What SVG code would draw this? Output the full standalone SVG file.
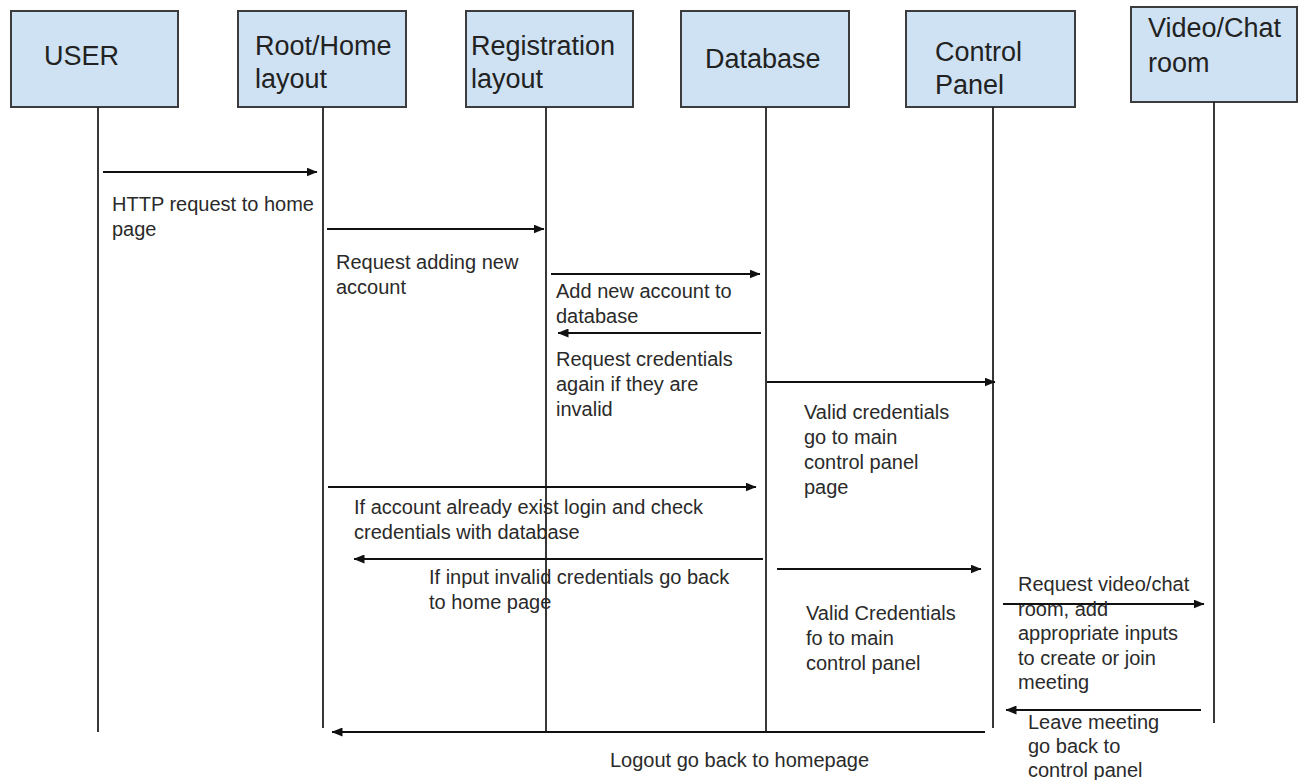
<svg xmlns="http://www.w3.org/2000/svg" width="1301" height="780" viewBox="0 0 1301 780">
<defs>
<marker id="ah" viewBox="0 0 11 9" markerWidth="11" markerHeight="9" refX="10.5" refY="4.5" orient="auto" markerUnits="userSpaceOnUse">
<path d="M0,0 L11,4.5 L0,9 z" fill="#111"/>
</marker>
<style>
.box{fill:#cfe2f3;stroke:#3c3c3c;stroke-width:2}
.hd{font-family:"Liberation Sans",Arial,sans-serif;font-size:27px;fill:#222}
.lbl{font-family:"Liberation Sans",Arial,sans-serif;font-size:20px;fill:#2a2a2a}
.life{stroke:#222;stroke-width:1.8;fill:none}
.msg{stroke:#111;stroke-width:1.8;fill:none;marker-end:url(#ah)}
</style>
</defs>
<rect width="1301" height="780" fill="#fff"/>

<g id="user">
<rect class="box" x="11" y="11" width="167" height="96"/>
<text class="hd" x="44" y="65">USER</text>
<line class="life" x1="98" y1="107" x2="98" y2="732"/>
</g>
<g id="root-home">
<rect class="box" x="238" y="11" width="168" height="96"/>
<text class="hd" x="255" y="55">Root/Home</text>
<text class="hd" x="255" y="88">layout</text>
<line class="life" x1="323" y1="107" x2="323" y2="728"/>
</g>
<g id="registration">
<rect class="box" x="466" y="11" width="167" height="96"/>
<text class="hd" x="471" y="55">Registration</text>
<text class="hd" x="471" y="88">layout</text>
<line class="life" x1="546" y1="107" x2="546" y2="731"/>
</g>
<g id="database">
<rect class="box" x="681" y="11" width="168" height="96"/>
<text class="hd" x="705" y="68">Database</text>
<line class="life" x1="766" y1="107" x2="766" y2="732"/>
</g>
<g id="control-panel">
<rect class="box" x="906" y="11" width="169" height="96"/>
<text class="hd" x="935" y="61">Control</text>
<text class="hd" x="935" y="94">Panel</text>
<line class="life" x1="993" y1="107" x2="993" y2="728"/>
</g>
<g id="video-chat">
<rect class="box" x="1131" y="7" width="166" height="95"/>
<text class="hd" x="1148" y="37">Video/Chat</text>
<text class="hd" x="1148" y="72">room</text>
<line class="life" x1="1214" y1="102" x2="1214" y2="723"/>
</g>

<g id="connectors">
<line class="msg" x1="103" y1="172" x2="317" y2="172"/>
<line class="msg" x1="327" y1="229" x2="544" y2="229"/>
<line class="msg" x1="551" y1="274" x2="760" y2="274"/>
<line class="msg" x1="761" y1="333" x2="558" y2="333"/>
<line class="msg" x1="767" y1="382" x2="995" y2="382"/>
<line class="msg" x1="328" y1="487" x2="756" y2="487"/>
<line class="msg" x1="763" y1="559" x2="354" y2="559"/>
<line class="msg" x1="777" y1="569" x2="981" y2="569"/>
<line class="msg" x1="1003" y1="604" x2="1204" y2="604"/>
<line class="msg" x1="1201" y1="710" x2="1006" y2="710"/>
<line class="msg" x1="985" y1="732" x2="332" y2="732"/>
</g>

<g id="labels">
<text class="lbl" x="112" y="211">HTTP request to home</text>
<text class="lbl" x="112" y="236">page</text>
<text class="lbl" x="336" y="269">Request adding new</text>
<text class="lbl" x="336" y="294">account</text>
<text class="lbl" x="556" y="298">Add new account to</text>
<text class="lbl" x="556" y="323">database</text>
<text class="lbl" x="556" y="366">Request credentials</text>
<text class="lbl" x="556" y="391">again if they are</text>
<text class="lbl" x="556" y="416">invalid</text>
<text class="lbl" x="804" y="419">Valid credentials</text>
<text class="lbl" x="804" y="444">go to main</text>
<text class="lbl" x="804" y="469">control panel</text>
<text class="lbl" x="804" y="494">page</text>
<text class="lbl" x="354" y="514">If account already exist login and check</text>
<text class="lbl" x="354" y="539">credentials with database</text>
<text class="lbl" x="429" y="584">If input invalid credentials go back</text>
<text class="lbl" x="429" y="609">to home page</text>
<text class="lbl" x="806" y="620">Valid Credentials</text>
<text class="lbl" x="806" y="645">fo to main</text>
<text class="lbl" x="806" y="670">control panel</text>
<text class="lbl" x="1018" y="591">Request video/chat</text>
<text class="lbl" x="1018" y="615.5">room, add</text>
<text class="lbl" x="1018" y="640">appropriate inputs</text>
<text class="lbl" x="1018" y="664.5">to create or join</text>
<text class="lbl" x="1018" y="689">meeting</text>
<text class="lbl" x="1028" y="729">Leave meeting</text>
<text class="lbl" x="1028" y="753">go back to</text>
<text class="lbl" x="1028" y="777">control panel</text>
<text class="lbl" x="610" y="767">Logout go back to homepage</text>
</g>
</svg>
